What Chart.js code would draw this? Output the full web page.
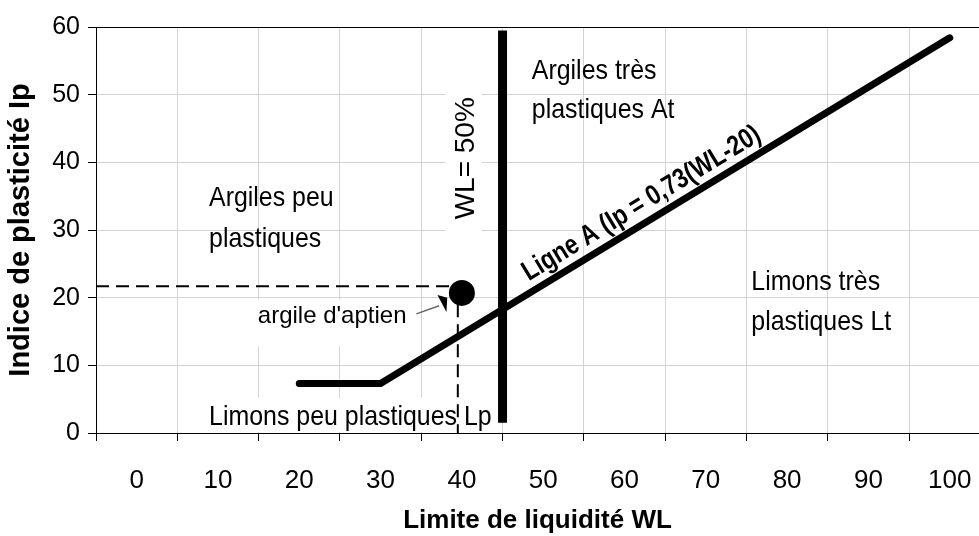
<!DOCTYPE html>
<html>
<head>
<meta charset="utf-8">
<script src="https://cdn.jsdelivr.net/npm/chart.js@4.4.1/dist/chart.umd.min.js"></script>
<style>
	html, body { margin: 0; padding: 0; background: #fff; overflow: hidden; }
	#wrap { width: 979px; height: 536px; position: relative; }
</style>
</head>
<body>
<div id="wrap"><canvas id="plasticityChart"></canvas></div>
<script>
	// Ligne A : Ip = 0,73 (WL - 20), flat part at Ip = 7.3 between WL 20 and 30
	var lineA_WL = [20, 30, 100];
	var lineA_Ip = [7.3, 7.3, 58.4];

	// The "WL = 50%" limit (sits on the 45 gridline in the original sheet)
	var limit_WL = [45, 45];
	var limit_Ip = [1.5, 59.5];

	// Sample : argile d'aptien
	var sample_WL = [40];
	var sample_Ip = [20.7];

	// Dashed reading lines of the sample
	var read_WL = [-5, 39.5, 39.5];
	var read_Ip = [21.7, 21.7, 0];

	// Axes
	var xTickValues = [0, 10, 20, 30, 40, 50, 60, 70, 80, 90, 100];
	var xGridValues = [-5, 5, 15, 25, 35, 45, 55, 65, 75, 85, 95];
	var yTickValues = [0, 10, 20, 30, 40, 50, 60];
	var X_MIN = -5, X_MAX = 103.6;

	var FONT = "'Liberation Sans', Arial, sans-serif";
	var GRID_GREY = '#d3d3d3';

	Chart.defaults.font.family = FONT;
	Chart.defaults.color = '#000';

	function toPoints(xs, ys) {
		var pts = [];
		for (var i = 0; i < xs.length; i++) {
			pts.push({x: xs[i], y: ys[i]});
		}
		return pts;
	}

	// keep the plot running to the right edge, like the Excel original
	function noSidePadding(scale) {
		scale.paddingLeft = 0;
		scale.paddingRight = 0;
	}

	/**
	 * Zone texts, white boxes behind some of them, the arrow and the Ligne A caption.
	 * Positions are in data units (WL, Ip), converted through the scales.
	 */
	var zoneTexts = [
		{text: 'Argiles peu', wl: 8.9, ip: 33.5},
		{text: 'plastiques', wl: 8.9, ip: 27.5},
		{text: 'Argiles très', wl: 48.6, ip: 52.3},
		{text: 'plastiques At', wl: 48.6, ip: 46.5},
		{text: 'Limons très', wl: 75.6, ip: 21.1},
		{text: 'plastiques Lt', wl: 75.6, ip: 15.2},
		{text: 'Limons peu plastiques Lp', wl: 8.9, ip: 1.2}
	];
	var whiteBoxes = [
		{wl0: 8.0, wl1: 44.0, ip0: 0.15, ip1: 5.2},
		{wl0: 14.0, wl1: 34.5, ip0: 12.8, ip1: 19.7},
		{wl0: 38.0, wl1: 42.4, ip0: 29.7, ip1: 51.0}
	];

	var zonePlugin = {
		id: 'zoneLabels',
		beforeDatasetsDraw: function (chart) {
			var ctx = chart.ctx, xs = chart.scales.x, ys = chart.scales.y;
			ctx.save();
			ctx.fillStyle = '#fff';
			whiteBoxes.forEach(function (b) {
				var x0 = xs.getPixelForValue(b.wl0), x1 = xs.getPixelForValue(b.wl1);
				var y0 = ys.getPixelForValue(b.ip1), y1 = ys.getPixelForValue(b.ip0);
				ctx.fillRect(x0, y0, x1 - x0, y1 - y0);
			});
			ctx.restore();
		},
		afterDatasetsDraw: function (chart) {
			var ctx = chart.ctx, xs = chart.scales.x, ys = chart.scales.y;
			ctx.save();
			ctx.fillStyle = '#000';
			ctx.textBaseline = 'alphabetic';
			ctx.textAlign = 'left';

			// Zone names (slightly condensed like the original)
			ctx.font = '28px ' + FONT;
			zoneTexts.forEach(function (t) {
				ctx.save();
				ctx.translate(xs.getPixelForValue(t.wl), ys.getPixelForValue(t.ip));
				ctx.scale(0.89, 1);
				ctx.fillText(t.text, 0, 0);
				ctx.restore();
			});

			// Sample label + arrow
			ctx.font = '24px ' + FONT;
			ctx.fillText("argile d'aptien", xs.getPixelForValue(14.9), ys.getPixelForValue(16.3));
			ctx.strokeStyle = '#666';
			ctx.lineWidth = 1.5;
			ctx.beginPath();
			ctx.moveTo(xs.getPixelForValue(34.4), ys.getPixelForValue(17.6));
			ctx.lineTo(xs.getPixelForValue(37.2), ys.getPixelForValue(18.8));
			ctx.stroke();
			ctx.beginPath();
			ctx.moveTo(xs.getPixelForValue(37.0), ys.getPixelForValue(20.4));
			ctx.lineTo(xs.getPixelForValue(38.2), ys.getPixelForValue(20.0));
			ctx.lineTo(xs.getPixelForValue(38.1), ys.getPixelForValue(17.9));
			ctx.closePath();
			ctx.fill();

			// WL = 50% (vertical)
			ctx.save();
			ctx.font = '28px ' + FONT;
			ctx.translate(xs.getPixelForValue(40.6), ys.getPixelForValue(40.6));
			ctx.rotate(-Math.PI / 2);
			ctx.textAlign = 'center';
			ctx.textBaseline = 'middle';
			ctx.fillText('WL= 50%', 0, 0);
			ctx.restore();

			// Ligne A caption along the line
			var ax0 = xs.getPixelForValue(lineA_WL[1]), ay0 = ys.getPixelForValue(lineA_Ip[1]);
			var ax1 = xs.getPixelForValue(lineA_WL[2]), ay1 = ys.getPixelForValue(lineA_Ip[2]);
			var angle = Math.atan2(ay1 - ay0, ax1 - ax0);
			var startWL = 48.9;
			ctx.save();
			ctx.font = 'bold 28px ' + FONT;
			ctx.translate(xs.getPixelForValue(startWL), ys.getPixelForValue(0.73 * (startWL - 20)));
			ctx.rotate(angle);
			ctx.scale(0.82, 1);
			ctx.fillText('Ligne A (Ip = 0,73(WL-20)', 0, -10.5);
			ctx.restore();

			ctx.restore();
		}
	};

	var chartConfig = {
		type: 'scatter',
		data: {
			datasets: [
				{
					label: 'lecture',
					data: toPoints(read_WL, read_Ip),
					showLine: true,
					borderColor: '#000',
					borderWidth: 2,
					borderDash: [13, 7],
					pointRadius: 0
				},
				{
					label: 'Ligne A',
					data: toPoints(lineA_WL, lineA_Ip),
					showLine: true,
					borderColor: '#000',
					borderWidth: 7,
					borderCapStyle: 'round',
					borderJoinStyle: 'miter',
					pointRadius: 0
				},
				{
					label: 'WL = 50%',
					data: toPoints(limit_WL, limit_Ip),
					showLine: true,
					borderColor: '#000',
					borderWidth: 9,
					borderCapStyle: 'butt',
					pointRadius: 0
				},
				{
					label: "argile d'aptien",
					data: toPoints(sample_WL, sample_Ip),
					showLine: false,
					pointRadius: 13,
					pointBackgroundColor: '#000',
					pointBorderWidth: 0
				}
			]
		},
		options: {
			responsive: true,
			maintainAspectRatio: false,
			animation: false,
			layout: { autoPadding: false, padding: { top: 27, left: 0, right: 0, bottom: 0 } },
			plugins: {
				legend: { display: false },
				tooltip: { enabled: false }
			},
			scales: {
				x: {
					type: 'linear',
					position: 'bottom',
					weight: 0,
					min: X_MIN,
					max: X_MAX,
					afterBuildTicks: function (scale) {
						scale.ticks = xGridValues.map(function (v) { return {value: v}; });
					},
					afterFit: function (scale) { scale.height = 8; noSidePadding(scale); },
					ticks: { display: false },
					grid: { color: GRID_GREY, tickColor: '#000', tickLength: 8, lineWidth: 1 },
					border: { color: '#000', width: 1 }
				},
				xLabels: {
					type: 'linear',
					position: 'bottom',
					weight: 1,
					min: X_MIN,
					max: X_MAX,
					afterBuildTicks: function (scale) {
						scale.ticks = xTickValues.map(function (v) { return {value: v}; });
					},
					afterFit: function (scale) { scale.height = 95; noSidePadding(scale); },
					ticks: { font: { size: 26 }, color: '#000', padding: 16, maxRotation: 0, autoSkip: false },
					grid: { display: false },
					border: { display: false },
					title: {
						display: true,
						text: 'Limite de liquidité WL',
						font: { size: 26, weight: 'bold' },
						color: '#000',
						padding: { top: 0, bottom: 0 }
					}
				},
				y: {
					type: 'linear',
					min: 0,
					max: 60,
					afterBuildTicks: function (scale) {
						scale.ticks = yTickValues.map(function (v) { return {value: v}; });
					},
					afterFit: function (scale) { scale.width = 96; },
					ticks: { font: { size: 25 }, color: '#000', padding: 8 },
					grid: {
						color: function (c) { return (c.tick && c.tick.value === 60) ? '#000' : GRID_GREY; },
						tickColor: '#000',
						tickLength: 8
					},
					border: { color: '#000', width: 1 },
					title: {
						display: true,
						text: 'Indice de plasticité Ip',
						font: { size: 29, weight: 'bold' },
						color: '#000',
						padding: { top: 4, bottom: 0 }
					}
				}
			}
		},
		plugins: [zonePlugin]
	};

	var plasticityChart = new Chart(document.getElementById('plasticityChart'), chartConfig);
</script>
</body>
</html>
